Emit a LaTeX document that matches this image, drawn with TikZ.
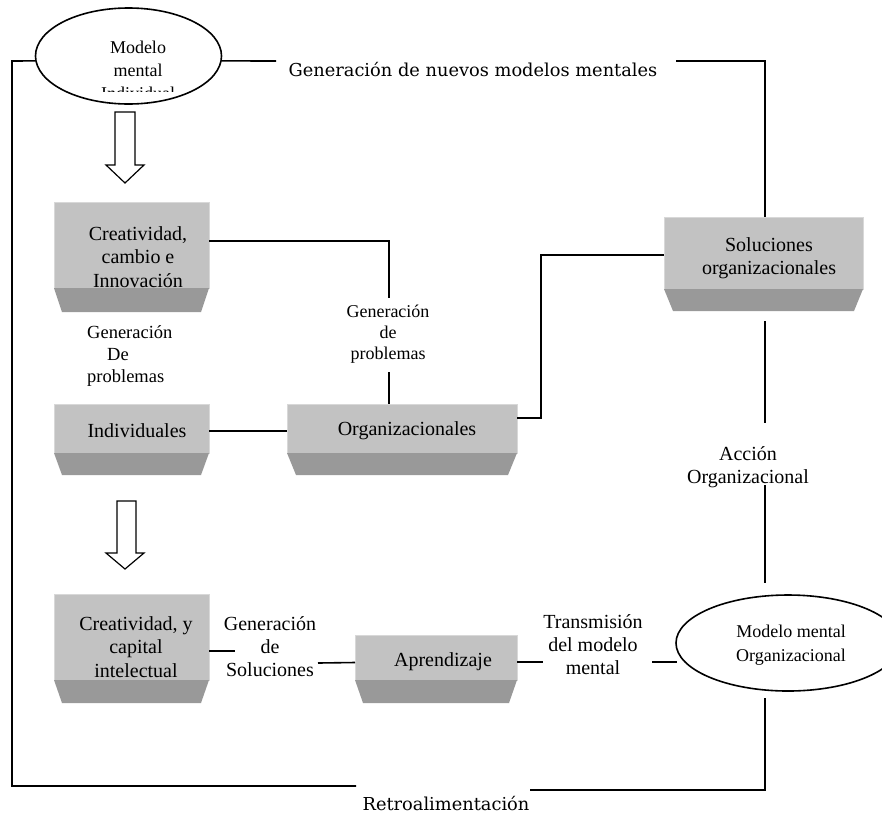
\documentclass[tikz,border=0pt]{standalone}
\usepackage{fontspec}
\setmainfont{Liberation Serif}
\newfontfamily\titlefont{DejaVu Serif}
\usetikzlibrary{shapes.geometric}
\definecolor{boxlight}{RGB}{194,194,194}
\definecolor{boxedge}{RGB}{216,216,216}
\definecolor{boxdark}{RGB}{153,153,153}
\tikzset{
 gbox/.style={rectangle, fill=boxlight, draw=boxedge, line width=1pt, inner sep=0pt, outer sep=0pt},
 conn/.style={line width=1.6pt},
 oval/.style={ellipse, draw, line width=1.6pt, inner sep=0pt, fill=white},
 boxtext/.style={font=\fontsize{20}{23.5}\selectfont, align=center, inner sep=0pt},
 lbl/.style={font=\fontsize{20}{23}\selectfont, align=center, inner sep=0pt},
 smalllbl/.style={font=\fontsize{18.5}{22}\selectfont, inner sep=0pt},
 ovaltext/.style={font=\fontsize{18}{23}\selectfont, align=center, inner sep=0pt},
 titletext/.style={font=\titlefont\fontsize{17.8}{22}\selectfont, inner sep=0pt},
 hollow/.style={draw, line width=1.2pt, fill=white, line join=miter},
}
\newcommand{\trapz}[3]{\fill[boxdark] (#1.south west) -- (#1.south east) -- ([shift={(-#2,#3)}]#1.south east) -- ([shift={(#2,#3)}]#1.south west) -- cycle;}
\begin{document}
\begin{tikzpicture}[x=1pt,y=-1pt]
\useasboundingbox[fill=white] (0,0) rectangle (882,814);

% boxes
\node[gbox, minimum width=155pt, minimum height=86pt] (crea1) at (131.5,245) {};
\node[gbox, minimum width=155pt, minimum height=49pt] (indiv) at (131.5,428.5) {};
\node[gbox, minimum width=230pt, minimum height=49pt] (orgs) at (402,428.5) {};
\node[gbox, minimum width=199pt, minimum height=72pt] (sol) at (763.5,253) {};
\node[gbox, minimum width=155pt, minimum height=86pt] (crea2) at (131.5,637) {};
\node[gbox, minimum width=162pt, minimum height=45pt] (apr) at (436,657.5) {};
\trapz{crea1}{8}{24}
\trapz{indiv}{8}{22}
\trapz{orgs}{9}{22}
\trapz{sol}{9}{22}
\trapz{crea2}{8}{23}
\trapz{apr}{8}{23}

% box texts
\node[boxtext] (tcrea1) at (138,257) {Creatividad,\\cambio e\\Innovación};
\node[boxtext] (tindiv) at (137,431) {Individuales};
\node[boxtext] (torgs) at (407,431) {Organizacionales};
\node[boxtext] (tsol) at (769,258) {Soluciones\\organizacionales};
\node[boxtext] (tcrea2) at (136,647) {Creatividad, y\\capital\\intelectual};
\node[boxtext] (tapr) at (443,662) {Aprendizaje};

% ellipses
\node[oval, minimum width=186pt, minimum height=96pt] (ell1) at (128.5,56) {};
\begin{scope}
\clip (40,20) rectangle (220,91);
\node[ovaltext] (tell1) at (138,70) {Modelo\\mental\\Individual};
\end{scope}
\node[oval, minimum width=224pt, minimum height=96pt] (ell2) at (788,643) {};
\node[ovaltext, font=\fontsize{18}{24}\selectfont] (tell2) at (791,645) {Modelo mental\\Organizacional};

% labels
\node[titletext] (title) at (473,70) {Generación de nuevos modelos mentales};
\node[titletext] (retro) at (446,803) {Retroalimentación};
\node[smalllbl, align=left, anchor=west] (lprob1) at (87,356) {Generación\\\hspace*{20pt}De\\problemas};
\node[smalllbl, align=center, font=\fontsize{18}{21}\selectfont] (lprob2) at (388,334) {Generación\\de\\problemas};
\node[lbl] (lacc) at (748,467) {Acción\\Organizacional};
\node[lbl] (lsolu) at (270,647) {Generación\\de\\Soluciones};
\node[lbl] (ltrans) at (593,645) {Transmisión\\del modelo\\mental};

% named free ends
\coordinate (tl) at (276,61);
\coordinate (tr) at (676,61);
\coordinate (trc) at (765,61);
\coordinate (lc) at (12,61);
\coordinate (bl) at (12,786);
\coordinate (bm1) at (356,786);
\coordinate (bm2) at (530,790);
\coordinate (br) at (765,790);
\coordinate (e2b) at (765,698);
\coordinate (p1) at (389,241);
\coordinate (p2) at (389,298);
\coordinate (p3) at (389,372);
\coordinate (o1) at (541,418);
\coordinate (o2) at (541,255);
\coordinate (a1) at (765,321);
\coordinate (a2) at (765,423);
\coordinate (a3) at (765,485);
\coordinate (a4) at (765,583);
\coordinate (s1) at (235,651);
\coordinate (s2) at (318,663);
\coordinate (t1) at (543,662);
\coordinate (t2) at (652,662);
\coordinate (t3) at (677,662);

% connectors
\draw[conn] (ell1.357) -- (tl);
\draw[conn] (tr) -- (trc) -- ([xshift=1.5pt]sol.north);
\draw[conn] (ell1.183) -- (lc) -- (bl) -- (bm1);
\draw[conn] (bm2) -- (br) -- (e2b);
\draw[conn] ([yshift=4pt]crea1.east) -- (p1) -- (p2);
\draw[conn] (p3) -- ([xshift=-13pt]orgs.north);
\draw[conn] ([yshift=-2.5pt]indiv.east) -- ([yshift=-2.5pt]orgs.west);
\draw[conn] ([yshift=10.5pt]orgs.east) -- (o1) -- (o2) -- ([yshift=-2pt]sol.west);
\draw[conn] (a1) -- (a2);
\draw[conn] (a3) -- (a4);
\draw[conn] ([yshift=-14pt]crea2.east) -- (s1);
\draw[conn] (s2) -- ([yshift=-5pt]apr.west);
\draw[conn] ([yshift=-4.5pt]apr.east) -- (t1);
\draw[conn] (t2) -- (t3);

% hollow arrows
\draw[hollow] (115,112) -- (135,112) -- (135,165) -- (144,165) -- (125,183) -- (106,165) -- (115,165) -- cycle;
\draw[hollow] (117,501) -- (136,501) -- (136,553) -- (144,553) -- (125,569) -- (106,553) -- (117,553) -- cycle;
\end{tikzpicture}
\end{document}
